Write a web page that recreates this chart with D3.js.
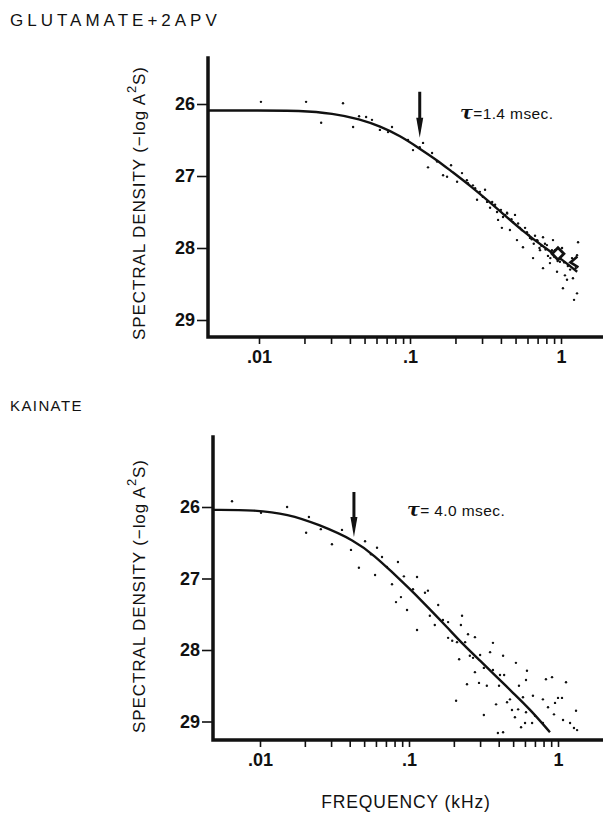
<!DOCTYPE html>
<html>
<head>
<meta charset="utf-8">
<script src="https://cdn.jsdelivr.net/npm/d3@7"></script>
<style>
  body { margin: 0; background: #fff; }
  svg { display: block; font-family: 'Liberation Sans', Arial, Helvetica, sans-serif; }
  .axis-line { fill: none; stroke: #111; stroke-width: 3.5; stroke-linecap: square; }
  .tick line { stroke: #111; stroke-width: 1.6; }
  .tick text { font-weight: bold; font-size: 18px; fill: #111; }
  .fit { fill: none; stroke: #111; stroke-width: 2.4; }
  .dot { fill: #111; }
</style>
</head>
<body>
<script>
// ---- data ----
const yTicks = [26, 27, 28, 29];
const xTicks = [0.01, 0.02, 0.03, 0.04, 0.05, 0.06, 0.07, 0.08, 0.09,
                0.1, 0.2, 0.3, 0.4, 0.5, 0.6, 0.7, 0.8, 0.9, 1];
const xTickLabels = { 0.01: '.01', 0.1: '.1', 1: '1' };

// glutamate + 2APV: fitted curve
const topCurveF = [0.00459, 0.01, 0.0187, 0.0309, 0.0467, 0.0633, 0.0859, 0.116, 0.151, 0.184, 0.249, 0.377, 0.56, 0.81, 1.0, 1.28];
const topCurveV = [26.09, 26.09, 26.09, 26.13, 26.21, 26.31, 26.44, 26.62, 26.78, 26.92, 27.13, 27.45, 27.77, 28.02, 28.15, 28.33];
// glutamate + 2APV: measured points
const topDotF = [0.0103, 0.0205, 0.036, 0.0258, 0.042, 0.046, 0.0512, 0.056, 0.0632, 0.076, 0.0715, 0.097, 0.1047, 0.122, 0.14,
  0.1316, 0.1656, 0.187, 0.176, 0.221, 0.205, 0.238, 0.261, 0.278, 0.324, 0.339, 0.377, 0.383, 0.439, 0.496,
  0.406, 0.459, 0.535, 0.511, 0.595, 0.623, 0.56, 0.693, 0.76, 0.726, 0.807, 0.885, 0.912, 1.016, 0.653,
  0.76, 0.845, 0.941, 1.062, 1.183, 1.277, 1.297, 1.096, 1.2, 1.03, 1.277, 1.22, 0.413, 0.304, 0.242,
  0.314, 0.366, 0.426, 0.481, 0.578, 0.673, 0.783, 0.871, 0.82, 0.984, 1.11, 0.151, 0.116,
  0.27, 0.29, 0.35, 0.40, 0.44, 0.47, 0.52, 0.55, 0.61, 0.64, 0.70, 0.74, 0.79, 0.86, 0.90, 0.66, 0.72, 0.85,
  1.05, 1.15, 1.25, 0.95];
const topDotV = [25.97, 25.97, 25.99, 26.26, 26.32, 26.17, 26.18, 26.22, 26.36, 26.32, 26.39, 26.50, 26.64, 26.54, 26.68,
  26.88, 26.99, 26.85, 27.01, 26.96, 27.08, 27.06, 27.13, 27.33, 27.36, 27.44, 27.50, 27.61, 27.51, 27.54,
  27.72, 27.75, 27.72, 27.89, 27.78, 27.86, 27.99, 27.89, 27.85, 28.03, 27.96, 27.89, 28.03, 28.00, 28.14,
  28.28, 28.21, 28.33, 28.38, 28.14, 28.10, 27.92, 28.44, 28.42, 28.56, 28.63, 28.72, 27.57, 27.29, 27.10,
  27.19, 27.40, 27.54, 27.64, 27.72, 27.83, 27.94, 28.03, 28.11, 28.19, 28.25, 26.80, 26.60,
  27.17, 27.22, 27.36, 27.47, 27.52, 27.60, 27.66, 27.75, 27.82, 27.88, 27.90, 27.97, 28.02, 28.06, 28.12, 27.94, 28.00, 28.14,
  28.20, 28.30, 28.28, 28.18];
const topMarker = { f: 0.955, v: 28.08 };
const topChevron = { f: 1.19, v: 28.2 };
const topArrow = { f: 0.116, from: 25.83, to: 26.47 };

// kainate: fitted curve
const botCurveF = [0.00484, 0.00925, 0.0154, 0.0245, 0.0434, 0.0592, 0.0769, 0.094, 0.1064, 0.138, 0.18, 0.23, 0.30, 0.39, 0.499, 0.649, 0.883];
const botCurveV = [26.04, 26.04, 26.10, 26.24, 26.47, 26.69, 26.91, 27.08, 27.19, 27.43, 27.68, 27.92, 28.15, 28.38, 28.60, 28.83, 29.15];
// kainate: measured points
const botDotF = [0.00649, 0.01016, 0.0152, 0.0213, 0.0204, 0.0256, 0.0304, 0.0355, 0.0408, 0.0461, 0.0507, 0.0556, 0.061, 0.0659, 0.0592,
  0.0711, 0.0843, 0.0924, 0.0769, 0.0883, 0.0818, 0.097, 0.1064, 0.1132, 0.1132, 0.128, 0.134, 0.138, 0.149, 0.157,
  0.169, 0.183, 0.183, 0.195, 0.210, 0.217, 0.223, 0.227, 0.238, 0.249, 0.256, 0.277, 0.269, 0.300, 0.277,
  0.318, 0.350, 0.366, 0.366, 0.408, 0.428, 0.402, 0.435, 0.295, 0.333, 0.245, 0.522, 0.547, 0.619, 0.610,
  0.207, 0.318, 0.384, 0.455, 0.476, 0.491, 0.540, 0.582, 0.610, 0.679, 0.701, 0.792, 0.830, 0.857, 0.912,
  0.955, 1.00, 1.064, 0.940, 1.132, 1.081, 1.205, 1.321, 1.280, 0.514, 0.601, 0.565, 0.395, 0.428, 0.670,
  1.343, 0.792];
const botDotV = [25.92, 26.08, 26.00, 26.14, 26.36, 26.31, 26.52, 26.32, 26.60, 26.85, 26.48, 26.66, 26.57, 26.70, 26.95,
  26.84, 26.77, 26.97, 27.08, 27.26, 27.33, 27.44, 27.15, 26.98, 27.72, 27.20, 27.17, 27.52, 27.65, 27.37,
  27.58, 27.61, 27.83, 27.87, 27.89, 28.13, 27.65, 27.52, 27.89, 27.78, 28.08, 27.82, 28.11, 28.07, 28.31,
  28.25, 28.03, 27.90, 28.28, 28.35, 28.08, 28.50, 28.35, 28.46, 28.50, 28.48, 28.18, 28.50, 28.29, 28.42,
  28.71, 28.91, 28.76, 28.73, 28.69, 28.84, 28.83, 28.66, 28.87, 28.64, 28.92, 28.69, 28.41, 28.80, 28.38,
  28.74, 28.67, 28.67, 28.90, 28.45, 28.98, 29.02, 28.85, 29.09, 28.94, 29.02, 29.08, 29.16, 29.15, 29.02,
  29.12, 29.02];
const botArrow = { f: 0.0427, from: 25.79, to: 26.42 };

// ---- layout ----
const W = 603, H = 814;
const svg = d3.select('body').append('svg').attr('width', W).attr('height', H);

function drawPanel(p) {
  const x = d3.scaleLog().domain([0.01, 1]).range(p.xRange);
  const y = d3.scaleLinear().domain([26, 29]).range(p.yRange);
  const g = svg.append('g');

  // axis frame
  g.append('path').attr('class', 'axis-line')
    .attr('d', `M${p.axisX},${p.axisTop}V${p.axisY + 1}H${W}`);

  g.append('g')
    .attr('transform', `translate(${p.axisX - 1},0)`)
    .call(d3.axisLeft(y).tickValues(yTicks).tickSize(10).tickPadding(2).tickFormat(d3.format('d')))
    .call(a => a.select('.domain').remove());

  g.append('g')
    .attr('transform', `translate(0,${p.axisY + 1})`)
    .call(d3.axisBottom(x).tickValues(xTicks).tickSize(7).tickPadding(6)
      .tickFormat(d => xTickLabels[d] || ''))
    .call(a => a.select('.domain').remove());

  // y-axis title
  const ty = g.append('text')
    .attr('transform', `translate(${p.titleX},${p.titleY}) rotate(-90)`)
    .attr('text-anchor', 'middle')
    .style('font-size', '17px').style('letter-spacing', '0.9px').attr('fill', '#111');
  ty.append('tspan').text('SPECTRAL DENSITY (\u2212log A');
  ty.append('tspan').attr('dy', -9).style('font-size', '13px').text('2');
  ty.append('tspan').attr('dy', 9).text('S)');

  // fitted curve
  const line = d3.line().x(d => x(d[0])).y(d => y(d[1])).curve(d3.curveBasis);
  g.append('path').attr('class', 'fit').attr('d', line(d3.zip(p.curveF, p.curveV)));

  // points
  g.append('g').selectAll('circle')
    .data(d3.zip(p.dotF, p.dotV))
    .join('circle').attr('class', 'dot')
    .attr('cx', d => x(d[0])).attr('cy', d => y(d[1])).attr('r', 1.2);

  // arrow
  const ax = x(p.arrow.f), a0 = y(p.arrow.from), a1 = y(p.arrow.to);
  g.append('line').attr('x1', ax).attr('x2', ax).attr('y1', a0).attr('y2', a1 - 14)
    .attr('stroke', '#111').attr('stroke-width', 3);
  g.append('path').attr('fill', '#111')
    .attr('d', `M${ax - 3.5},${a1 - 20}L${ax + 3.5},${a1 - 20}L${ax},${a1}Z`);

  // tau label
  const tt = g.append('text').attr('x', p.tau.x).attr('y', p.tau.y)
    .style('font-size', '15.5px').style('letter-spacing', '0.4px').attr('fill', '#111');
  tt.append('tspan').style('font-weight', 'bold').style('font-style', 'italic').style('font-size', '19px')
    .attr('font-family', "'DejaVu Serif', serif").text('\u03c4');
  tt.append('tspan').text(p.tau.text);

  return { x, y, g };
}

const topP = drawPanel({
  xRange: [259, 561], yRange: [104, 320], axisX: 208, axisTop: 58, axisY: 336,
  titleX: 145, titleY: 203,
  curveF: topCurveF, curveV: topCurveV, dotF: topDotF, dotV: topDotV,
  arrow: topArrow, tau: { x: 460, y: 119, text: '=1.4  msec.' }
});

// open diamond marker and chevron on the top panel
topP.g.append('path')
  .attr('transform', `translate(${topP.x(topMarker.f)},${topP.y(topMarker.v)}) rotate(45)`)
  .attr('d', d3.symbol(d3.symbolSquare, 70)())
  .attr('fill', '#fff').attr('stroke', '#111').attr('stroke-width', 2.8);
const cx = topP.x(topChevron.f), cy = topP.y(topChevron.v);
topP.g.append('path')
  .attr('d', `M${cx + 5},${cy - 6}L${cx - 2},${cy}L${cx + 6},${cy + 5}`)
  .attr('fill', 'none').attr('stroke', '#111').attr('stroke-width', 2.6);

drawPanel({
  xRange: [260, 558], yRange: [507, 721.5], axisX: 213, axisTop: 437, axisY: 739,
  titleX: 145, titleY: 596,
  curveF: botCurveF, curveV: botCurveV, dotF: botDotF, dotV: botDotV,
  arrow: botArrow, tau: { x: 407, y: 516, text: '=  4.0  msec.' }
});

// panel labels and shared x title
svg.append('text').attr('x', 10).attr('y', 26)
  .style('font-size', '17px').style('letter-spacing', '4px').attr('fill', '#111')
  .text('GLUTAMATE+2APV');
svg.append('text').attr('x', 10).attr('y', 411)
  .style('font-size', '15px').style('letter-spacing', '1.4px').attr('fill', '#111')
  .text('KAINATE');
svg.append('text').attr('x', 406).attr('y', 808).attr('text-anchor', 'middle')
  .style('font-size', '17.5px').style('letter-spacing', '0.9px').attr('fill', '#111')
  .text('FREQUENCY (kHz)');
</script>
</body>
</html>
